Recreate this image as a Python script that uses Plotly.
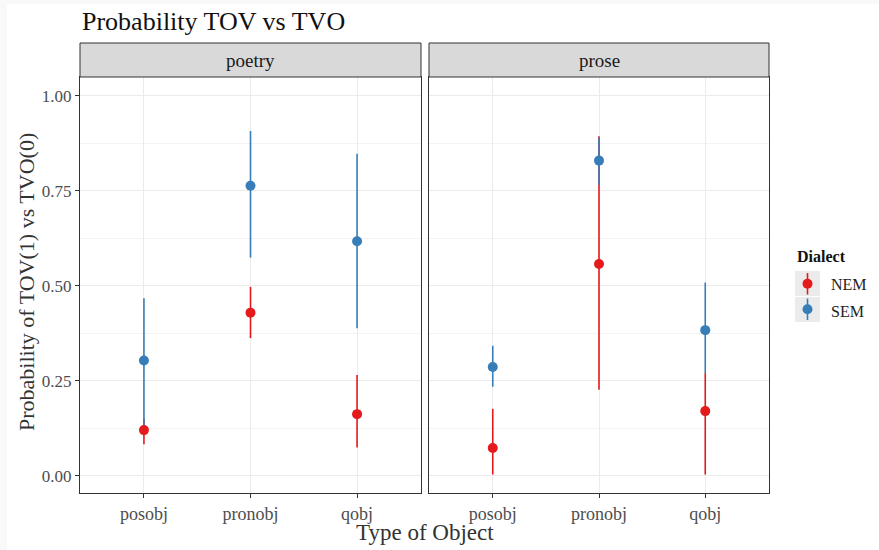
import plotly.graph_objects as go

# ---- data ----
categories = ["posobj", "pronobj", "qobj"]
panels = ["poetry", "prose"]
dialects = ["NEM", "SEM"]

poetry_nem = [0.120, 0.429, 0.162]
poetry_nem_lo = [0.083, 0.362, 0.074]
poetry_nem_hi = [0.150, 0.497, 0.265]
poetry_sem = [0.303, 0.763, 0.617]
poetry_sem_lo = [0.133, 0.574, 0.388]
poetry_sem_hi = [0.467, 0.907, 0.847]

prose_nem = [0.073, 0.557, 0.170]
prose_nem_lo = [0.003, 0.226, 0.003]
prose_nem_hi = [0.176, 0.893, 0.270]
prose_sem = [0.286, 0.829, 0.383]
prose_sem_lo = [0.234, 0.765, 0.270]
prose_sem_hi = [0.342, 0.889, 0.508]

y_ticks = [0.0, 0.25, 0.5, 0.75, 1.0]
y_ticklabels = ["0.00", "0.25", "0.50", "0.75", "1.00"]

colors = {"NEM": "#E41A1C", "SEM": "#377EB8"}
FONT = "Liberation Serif, DejaVu Serif, serif"

# ---- geometry (pixels) ----
W, H = 879, 550
ML, MR, MT, MB = 80, 0, 77, 57
PW = W - ML - MR
PH = H - MT - MB


def px(x):
    return (x - ML) / PW


def py(y):
    return (H - MB - y) / PH


fig = go.Figure()

data = {
    "poetry": {"NEM": (poetry_nem, poetry_nem_lo, poetry_nem_hi),
               "SEM": (poetry_sem, poetry_sem_lo, poetry_sem_hi)},
    "prose": {"NEM": (prose_nem, prose_nem_lo, prose_nem_hi),
              "SEM": (prose_sem, prose_sem_lo, prose_sem_hi)},
}

for i, panel in enumerate(panels):
    xa = "x" if i == 0 else "x2"
    ya = "y" if i == 0 else "y2"
    for d in dialects:
        v, lo, hi = data[panel][d]
        fig.add_trace(go.Scatter(
            x=categories, y=v, mode="markers", xaxis=xa, yaxis=ya,
            marker=dict(color=colors[d], size=10),
            error_y=dict(type="data", symmetric=False,
                         array=[h - m for h, m in zip(hi, v)],
                         arrayminus=[m - l for m, l in zip(v, lo)],
                         width=0, thickness=1.6, color=colors[d]),
            name=d, showlegend=False, cliponaxis=False,
        ))

# legend keys (custom legend drawn on its own small axis)
for d, ky in zip(dialects, [1.5, 0.5]):
    fig.add_trace(go.Scatter(
        x=[0.5], y=[ky], mode="markers", xaxis="x3", yaxis="y3",
        marker=dict(color=colors[d], size=10),
        error_y=dict(type="constant", value=0.42, width=0, thickness=1.6, color=colors[d]),
        showlegend=False, hoverinfo="skip", name=d,
    ))

d1 = [0, px(421)]
d2 = [px(429), px(769)]

common_x = dict(
    type="category", categoryorder="array", categoryarray=categories,
    range=[-0.6, 2.6], showgrid=True, gridcolor="#ebebeb", gridwidth=1,
    showline=True, linecolor="#333333", linewidth=1, mirror=True,
    ticks="outside", ticklen=4, tickcolor="#333333",
    tickfont=dict(family=FONT, size=18, color="#4d4d4d"), zeroline=False,
)
common_y = dict(
    range=[-0.0455, 1.049], tickvals=y_ticks, ticktext=y_ticklabels,
    showgrid=True, gridcolor="#ebebeb", gridwidth=1,
    minor=dict(tickvals=[0.125, 0.375, 0.625, 0.875], showgrid=True,
               gridcolor="#f3f3f3", gridwidth=0.6),
    showline=True, linecolor="#333333", linewidth=1, mirror=True,
    zeroline=False,
)

fig.update_layout(
    width=W, height=H,
    margin=dict(l=ML, r=MR, t=MT, b=MB, autoexpand=False),
    paper_bgcolor="#f9f9f9", plot_bgcolor="white",
    font=dict(family=FONT, color="#222222"),
    showlegend=False,
    xaxis=dict(domain=d1, anchor="y", **common_x),
    xaxis2=dict(domain=d2, anchor="y2", **common_x),
    yaxis=dict(domain=[0, 1], anchor="x", ticks="outside", ticklen=4, tickcolor="#333333",
               tickfont=dict(family=FONT, size=17, color="#4d4d4d"), **common_y),
    yaxis2=dict(domain=[0, 1], anchor="x2", matches="y", showticklabels=False, ticks="", **common_y),
    xaxis3=dict(domain=[px(795), px(820)], anchor="y3", range=[0, 1], visible=False, fixedrange=True),
    yaxis3=dict(domain=[py(322), py(271)], anchor="x3", range=[0, 2], visible=False, fixedrange=True),
    hovermode="closest",
)

shapes = [
    # white canvas inside the faint outer border
    dict(type="rect", xref="paper", yref="paper", x0=px(7), x1=px(W + 5), y0=py(H + 5), y1=py(4),
         fillcolor="white", line=dict(width=0), layer="below"),
    # legend key backgrounds
    dict(type="rect", xref="x3", yref="y3", x0=0, x1=1, y0=1.02, y1=2,
         fillcolor="#ebebeb", line=dict(width=0), layer="below"),
    dict(type="rect", xref="x3", yref="y3", x0=0, x1=1, y0=0, y1=0.98,
         fillcolor="#ebebeb", line=dict(width=0), layer="below"),
]
# strips
for dom, label in zip([d1, d2], panels):
    shapes.append(dict(type="rect", xref="paper", yref="paper",
                       x0=dom[0], x1=dom[1], y0=1, y1=py(43),
                       fillcolor="#d9d9d9", line=dict(color="#333333", width=1)))
fig.update_layout(shapes=shapes)

annotations = [
    dict(text="Probability TOV vs TVO", xref="paper", yref="paper", x=px(80), y=py(21),
         xanchor="left", yanchor="middle", showarrow=False,
         font=dict(family=FONT, size=26, color="#111111")),
    dict(text="Type of Object", xref="paper", yref="paper", x=px(425), y=py(532),
         xanchor="center", yanchor="middle", showarrow=False,
         font=dict(family=FONT, size=23, color="#333333")),
    dict(text="Probability of TOV(1) vs TVO(0)", xref="paper", yref="paper", x=px(26), y=py(282),
         xanchor="center", yanchor="middle", textangle=-90, showarrow=False,
         font=dict(family=FONT, size=22, color="#333333")),
    dict(text="<b>Dialect</b>", xref="paper", yref="paper", x=px(795), y=py(256),
         xanchor="left", yanchor="middle", showarrow=False,
         font=dict(family=FONT, size=16, color="#111111")),
    dict(text="NEM", xref="paper", yref="paper", x=px(829), y=py(284),
         xanchor="left", yanchor="middle", showarrow=False,
         font=dict(family=FONT, size=16, color="#222222")),
    dict(text="SEM", xref="paper", yref="paper", x=px(829), y=py(311),
         xanchor="left", yanchor="middle", showarrow=False,
         font=dict(family=FONT, size=16, color="#222222")),
]
for dom, label in zip([d1, d2], panels):
    annotations.append(dict(text=label, xref="paper", yref="paper",
                            x=(dom[0] + dom[1]) / 2, y=(1 + py(43)) / 2,
                            xanchor="center", yanchor="middle", showarrow=False,
                            font=dict(family=FONT, size=19, color="#1a1a1a")))
fig.update_layout(annotations=annotations)

fig.write_html("out.html", config={"displayModeBar": False},
               post_script="document.body.style.margin='0';")
